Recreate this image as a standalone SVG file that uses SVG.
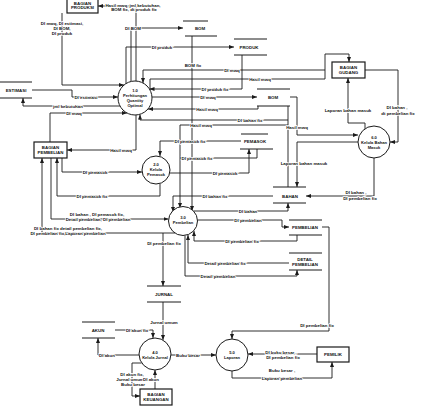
<svg xmlns="http://www.w3.org/2000/svg" width="422" height="416" viewBox="0 0 422 416">
<defs>
<marker id="ah" viewBox="0 0 10 8" refX="10" refY="4" markerWidth="5" markerHeight="4" markerUnits="userSpaceOnUse" orient="auto"><path d="M0,0L10,4L0,8z" fill="#1a1a1a"/></marker>
</defs>
<style>
.c{fill:none;stroke:#1a1a1a;stroke-width:0.9}
.a{marker-end:url(#ah)}
.box{fill:#fff;stroke:#1a1a1a;stroke-width:1.2}
.cir{fill:#fff;stroke:#1a1a1a;stroke-width:1}
.st{stroke:#1a1a1a;stroke-width:1}
text{font-family:"Liberation Sans",Arial,sans-serif;font-weight:bold;text-anchor:middle;dominant-baseline:central;fill:#111}
.l{font-size:4.4px;paint-order:stroke;stroke:#fff;stroke-width:1.6px}
.n{font-size:4.4px}
.p{font-size:4.1px}
</style>
<rect width="422" height="416" fill="#fff"/>
<g id="connectors">
<polyline class="c a" points="136,81 136,6 98,6"/>
<polyline class="c a" points="131,81.5 131,28 183,28"/>
<polyline class="c a" points="126,84 126,47 234,47"/>
<polyline class="c a" points="62,13 62,85 124,85"/>
<polyline class="c a" points="32,90 72,90 72,97 118,97"/>
<polyline class="c a" points="120,106 23,106 23,98"/>
<polyline class="c a" points="50,142 50,113 127,113"/>
<polyline class="c a" points="136,115 136,150 67,150"/>
<polyline class="c a" points="325,70 143,70 143,83"/>
<polyline class="c a" points="150,90 150,79 325,79 325,54 349,54 349,62"/>
<polyline class="c a" points="242,55 242,89 149.5,89"/>
<polyline class="c a" points="152,97 257,97"/>
<polyline class="c a" points="258,106 258,109 148,109"/>
<polyline class="c" points="288,106 288,187"/>
<polyline class="c a" points="288,120 140,120 140,114.5"/>
<polyline class="c a" points="192,36 192,211"/>
<polyline class="c a" points="288,125 180,125 180,208"/>
<polyline class="c a" points="290,97 297,97 297,135 358,135"/>
<polyline class="c a" points="358,142 297,142 297,187"/>
<polyline class="c a" points="241,141 160,141 160,156"/>
<polyline class="c a" points="170,173 249,173 249,149"/>
<polyline class="c" points="257,149 257,158 180,158"/>
<polyline class="c a" points="62,158 62,172 142,172"/>
<polyline class="c a" points="160,184 160,196 57,196 57,158"/>
<polyline class="c a" points="273,196 173,196 173,212"/>
<polyline class="c a" points="51,158 51,219 168.5,219"/>
<polyline class="c a" points="175,233 42,233 42,158"/>
<polyline class="c a" points="163,233 163,286"/>
<polyline class="c a" points="193.5,211 288,211 288,203"/>
<polyline class="c a" points="197.5,220 282,220 282,227 289,227"/>
<polyline class="c a" points="297,235 297,241 194,241 194,231"/>
<polyline class="c a" points="289,263 188,263 188,235"/>
<polyline class="c a" points="185,235.5 185,276 297,276 297,270"/>
<polyline class="c a" points="322,227 329,227 329,331 232,331 232,339"/>
<polyline class="c a" points="163,302 163,340"/>
<polyline class="c a" points="115,330 153,330 153,338"/>
<polyline class="c a" points="139,355 98,355 98,338"/>
<polyline class="c a" points="141.7,363 132,363 132,396 140,396"/>
<polyline class="c a" points="155,389 155,370"/>
<polyline class="c a" points="171,355 216,355"/>
<polyline class="c a" points="317,354 248,354"/>
<polyline class="c a" points="232,371 232,378 332,378 332,362"/>
<polyline class="c a" points="365,70 398,70 398,142 390,142"/>
<polyline class="c a" points="365,129 365,123 348,123 348,78"/>
<polyline class="c a" points="374,158 374,196 306,196"/>
<text class="l" x="133" y="5">Hasil mwq, jml kebutuhan,</text>
<text class="l" x="134" y="9.5">BOM fix, dt produk fix</text>
<text class="l" x="62" y="23">DI mwq, DI estimasi,</text>
<text class="l" x="62" y="28">DI BOM,</text>
<text class="l" x="62" y="33">DI produk</text>
<text class="l" x="133" y="28">DI BOM</text>
<text class="l" x="162" y="47">DI produk</text>
<text class="l" x="86" y="97">DI estimasi</text>
<text class="l" x="68" y="106">jml kebutuhan</text>
<text class="l" x="74" y="113">DI mwq</text>
<text class="l" x="121" y="150">Hasil mwq</text>
<text class="l" x="193" y="65">BOM fix</text>
<text class="l" x="232" y="70">DI mwq</text>
<text class="l" x="260" y="79">Hasil mwq</text>
<text class="l" x="215" y="89">DI produk fix</text>
<text class="l" x="208" y="97">DI mwq</text>
<text class="l" x="207" y="109">Hasil mwq</text>
<text class="l" x="250" y="120">DI bahan fix</text>
<text class="l" x="201" y="125">Hasil mwq</text>
<text class="l" x="297" y="127">Hasil mwq</text>
<text class="l" x="348" y="110">Laporan bahan masuk</text>
<text class="l" x="397" y="107">DI bahan ,</text>
<text class="l" x="398" y="113">dt pembelian fix</text>
<text class="l" x="190" y="141">DI pemasok fix</text>
<text class="l" x="197" y="158">DI pemasok fix</text>
<text class="l" x="304" y="163">Laporan bahan masuk</text>
<text class="l" x="225" y="173">DI pemasok</text>
<text class="l" x="95" y="172">DI pemasok</text>
<text class="l" x="92" y="196">DI pemasok fix</text>
<text class="l" x="215" y="196">DI bahan fix</text>
<text class="l" x="356" y="192">DI bahan ,</text>
<text class="l" x="360" y="198">DI pembelian fix</text>
<text class="l" x="248" y="211">DI bahan</text>
<text class="l" x="97" y="214">DI bahan , DI pemasok fix,</text>
<text class="l" x="98" y="219">Detail pembelian, DI pembelian</text>
<text class="l" x="248" y="220">DI pembelian</text>
<text class="l" x="68" y="228.5">DI bahan  fix detail pembelian fix,</text>
<text class="l" x="68" y="233.5">DI pembelian fix,Laporan pembelian</text>
<text class="l" x="242" y="241">DI pembelian fix</text>
<text class="l" x="164" y="243">DI pembelian fix</text>
<text class="l" x="225" y="263">Detail pembelian fix</text>
<text class="l" x="218" y="276">Detail pembelian</text>
<text class="l" x="164" y="322">Jurnal umum</text>
<text class="l" x="317" y="325">DI pembelian fix</text>
<text class="l" x="137" y="330">DI akun fix</text>
<text class="l" x="107" y="355">DI akun</text>
<text class="l" x="188" y="355">Buku besar</text>
<text class="l" x="281" y="352">DI buku besar ,</text>
<text class="l" x="283" y="357">DI pembelian fix</text>
<text class="l" x="282" y="370.5">Buku besar ,</text>
<text class="l" x="282" y="378">Laporan pembelian</text>
<text class="l" x="132" y="374">DI akun fix,</text>
<text class="l" x="130" y="379">Jurnal umum</text>
<text class="l" x="151" y="379">DI akun</text>
<text class="l" x="133" y="384">Buku besar</text>
</g>
<g id="bagian-produksi"><rect class="box" x="67" y="-3" width="31" height="16"/><text class="n" x="82.5" y="3">BAGIAN</text><text class="n" x="82.5" y="7.5">PRODUKSI</text></g>
<g id="bagian-gudang"><rect class="box" x="332" y="62" width="33" height="16"/><text class="n" x="348.5" y="67.5">BAGIAN</text><text class="n" x="348.5" y="72.5">GUDANG</text></g>
<g id="bagian-pembelian"><rect class="box" x="34" y="142" width="33" height="16"/><text class="n" x="50.5" y="147">BAGIAN</text><text class="n" x="50.5" y="152.5">PEMBELIAN</text></g>
<g id="bagian-keuangan"><rect class="box" x="140" y="389" width="32" height="16"/><text class="n" x="156" y="394.5">BAGIAN</text><text class="n" x="156" y="399.5">KEUANGAN</text></g>
<g id="pemilik"><rect class="box" x="317" y="347" width="32" height="15"/><text class="n" x="333" y="354.5">PEMILIK</text></g>
<g id="p1"><circle class="cir" cx="135" cy="98" r="17"/><text class="p" x="135" y="90.5">1.0</text><text class="p" x="135" y="95">Perhitungan</text><text class="p" x="135" y="100.5">Quantity</text><text class="p" x="135" y="105">Optimal</text></g>
<g id="p2"><circle class="cir" cx="156" cy="170" r="14"/><text class="p" x="156" y="164.5">2.0</text><text class="p" x="156" y="169.5">Kelola</text><text class="p" x="156" y="174.5">Pemasok</text></g>
<g id="p3"><circle class="cir" cx="183" cy="221" r="14.5"/><text class="p" x="183" y="217">3.0</text><text class="p" x="183" y="222">Pembelian</text></g>
<g id="p4"><circle class="cir" cx="155" cy="354" r="16"/><text class="p" x="155" y="352">4.0</text><text class="p" x="155" y="357">Kelola Jurnal</text></g>
<g id="p5"><circle class="cir" cx="232" cy="355" r="16"/><text class="p" x="232" y="352">5.0</text><text class="p" x="232" y="357">Laporan</text></g>
<g id="p6"><circle class="cir" cx="374" cy="142" r="16"/><text class="p" x="374" y="137">6.0</text><text class="p" x="374" y="142">Kelola Bahan</text><text class="p" x="374" y="147.5">Masuk</text></g>
<g id="ds-estimasi"><line class="st" x1="0" y1="82" x2="32" y2="82"/><line class="st" x1="0" y1="98" x2="32" y2="98"/><text class="n" x="16" y="90">ESTIMASI</text></g>
<g id="ds-bom1"><line class="st" x1="183" y1="21" x2="208" y2="21"/><line class="st" x1="185" y1="36" x2="217" y2="36"/><text class="n" x="200" y="28">BOM</text></g>
<g id="ds-produk"><line class="st" x1="234" y1="39" x2="267" y2="39"/><line class="st" x1="234" y1="55" x2="267" y2="55"/><text class="n" x="249" y="47">PRODUK</text></g>
<g id="ds-bom2"><line class="st" x1="257" y1="89" x2="290" y2="89"/><line class="st" x1="257" y1="106" x2="290" y2="106"/><text class="n" x="273" y="97.5">BOM</text></g>
<g id="ds-pemasok"><line class="st" x1="241" y1="134" x2="268" y2="134"/><line class="st" x1="240" y1="149" x2="273" y2="149"/><text class="n" x="255" y="141.5">PEMASOK</text></g>
<g id="ds-bahan"><line class="st" x1="273" y1="187" x2="306" y2="187"/><line class="st" x1="273" y1="203" x2="306" y2="203"/><text class="n" x="290" y="196">BAHAN</text></g>
<g id="ds-pembelian"><line class="st" x1="289" y1="220" x2="322" y2="220"/><line class="st" x1="289" y1="235" x2="322" y2="235"/><text class="n" x="305" y="227.5">PEMBELIAN</text></g>
<g id="ds-detail"><line class="st" x1="289" y1="253" x2="322" y2="253"/><line class="st" x1="289" y1="270" x2="322" y2="270"/><text class="n" x="305" y="259">DETAIL</text><text class="n" x="305" y="264">PEMBELIAN</text></g>
<g id="ds-jurnal"><line class="st" x1="147" y1="286" x2="181" y2="286"/><line class="st" x1="147" y1="302" x2="181" y2="302"/><text class="n" x="164" y="294">JURNAL</text></g>
<g id="ds-akun"><line class="st" x1="82" y1="322" x2="115" y2="322"/><line class="st" x1="82" y1="338" x2="115" y2="338"/><text class="n" x="98" y="330">AKUN</text></g>
</svg>
